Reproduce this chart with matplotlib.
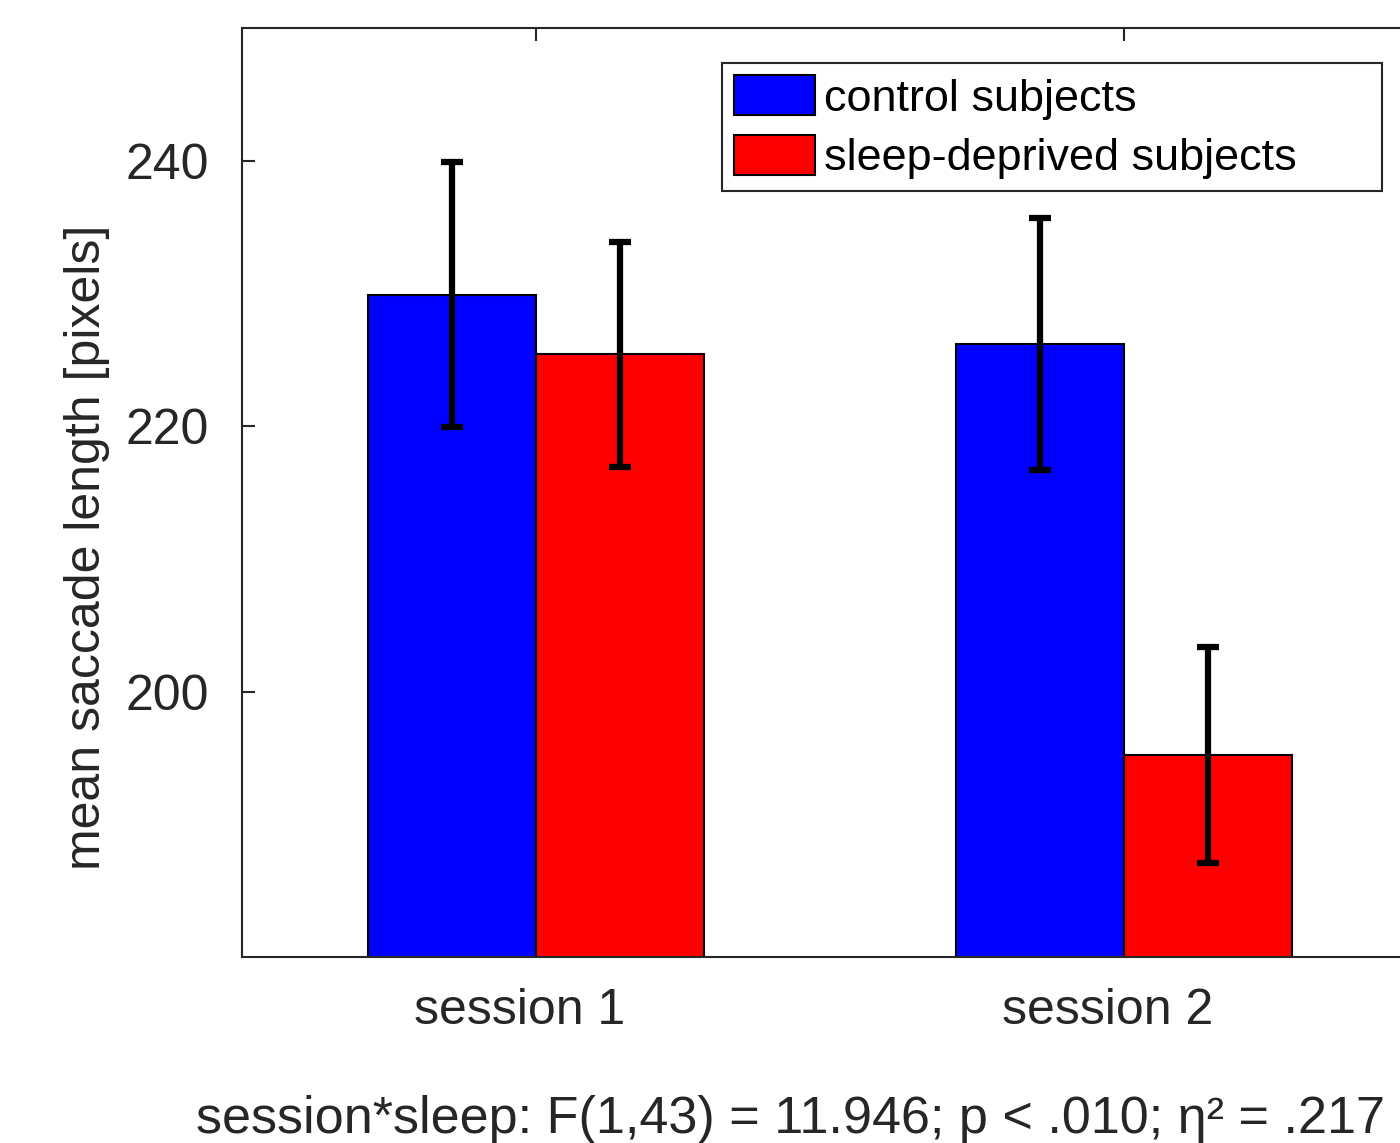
import matplotlib
matplotlib.use('Agg')
from matplotlib import pyplot as plt
import matplotlib.transforms as mtransforms
import numpy as np

# data
sessions = ['session 1', 'session 2']
groups = ['control subjects', 'sleep-deprived subjects']
control_mean = [229.9, 226.2]
control_err = [10.0, 9.5]
sleep_mean = [225.4, 195.2]
sleep_err = [8.5, 8.15]

plt.rcParams['font.family'] = ['Liberation Sans', 'DejaVu Sans']

fig = plt.figure(figsize=(14, 11.43), dpi=100)
ax = fig.add_axes([242 / 1400, 1 - 957 / 1143, 1176 / 1400, 929 / 1143])

x = np.arange(1, len(sessions) + 1)
w = 0.2857
axis_col = '#262626'

ax.bar(x - w / 2, control_mean, w, color=(0, 0, 1), edgecolor='black', linewidth=1.5, label=groups[0], zorder=2)
ax.bar(x + w / 2, sleep_mean, w, color=(1, 0, 0), edgecolor='black', linewidth=1.5, label=groups[1], zorder=2)
ax.errorbar(x - w / 2, control_mean, yerr=control_err, fmt='none', ecolor='black',
            elinewidth=4.5, capsize=8, capthick=4.5, zorder=3)
ax.errorbar(x + w / 2, sleep_mean, yerr=sleep_err, fmt='none', ecolor='black',
            elinewidth=4.5, capsize=8, capthick=4.5, zorder=3)

ax.set_xlim(0.5, 2.5)
ax.set_ylim(180, 250)
ax.set_yticks([200, 220, 240])
ax.set_xticks(x)
ax.set_xticklabels(sessions)

for s in ax.spines.values():
    s.set_color(axis_col)
    s.set_linewidth(1.5)
ax.tick_params(axis='both', direction='in', length=9, width=1.5, color=axis_col,
               labelcolor=axis_col, labelsize=36, top=True, right=True)
ax.tick_params(axis='x', pad=22)
ax.tick_params(axis='y', pad=24)

# MATLAB draws the session labels a little left of the tick
shift = mtransforms.ScaledTranslation(-16 / 100, 0, fig.dpi_scale_trans)
for lbl in ax.get_xticklabels():
    lbl.set_transform(lbl.get_transform() + shift)

ax.set_ylabel('mean saccade length [pixels]', fontsize=36, color=axis_col)
ax.yaxis.set_label_coords(-0.112, 0.441)
ax.set_xlabel('session*sleep: F(1,43) = 11.946; p < .010; η² = .217', fontsize=37.5,
              color=axis_col, labelpad=44)
ax.xaxis.label.set_x(0.466)

leg = ax.legend(loc='upper left', bbox_to_anchor=(722 / 1400, 1 - 63 / 1143, 660 / 1400, 0),
                bbox_transform=fig.transFigure, mode='expand', borderaxespad=0,
                fontsize=32.4, handlelength=1.8, handleheight=1.0, handletextpad=0.2,
                labelspacing=0.33, borderpad=0.27, fancybox=False, framealpha=1)
leg.get_frame().set_edgecolor(axis_col)
leg.get_frame().set_linewidth(1.5)

fig.savefig('out.png', dpi=100)
